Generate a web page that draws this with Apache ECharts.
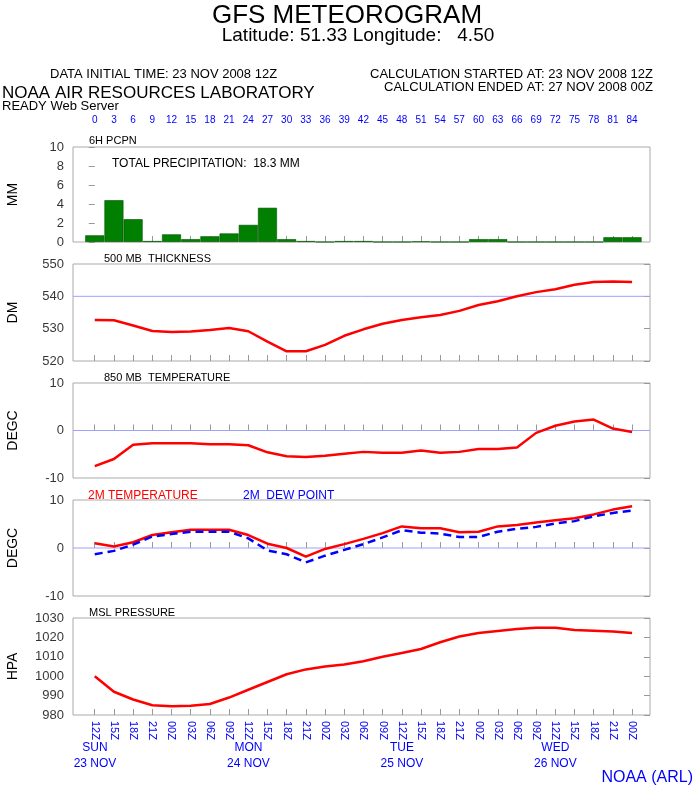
<!DOCTYPE html>
<html>
<head>
<script src="https://cdn.jsdelivr.net/npm/echarts@6/dist/echarts.min.js"></script>
</head>
<body style="margin:0;background:#fff">
<div id="chart" style="width:694px;height:787px"></div>
<script>
// forecast hours, every 3h
const hours = [0,3,6,9,12,15,18,21,24,27,30,33,36,39,42,45,48,51,54,57,60,63,66,69,72,75,78,81,84];
const zLabels = ['12Z','15Z','18Z','21Z','00Z','03Z','06Z','09Z','12Z','15Z','18Z','21Z','00Z','03Z','06Z','09Z','12Z','15Z','18Z','21Z','00Z','03Z','06Z','09Z','12Z','15Z','18Z','21Z','00Z'];
const dayLabels = [[0,'SUN\n23 NOV'],[24,'MON\n24 NOV'],[48,'TUE\n25 NOV'],[72,'WED\n26 NOV']];

const pcpn = [0.7,4.4,2.4,0.1,0.8,0.3,0.6,0.9,1.8,3.6,0.3,0.1,0,0.1,0.1,0,0,0.05,0,0,0.3,0.3,0,0,0,0,0,0.5,0.5];
const thickness = [532.7,532.6,531,529.3,529,529.1,529.6,530.2,529.2,526,523,523,525,527.8,529.8,531.5,532.7,533.5,534.2,535.5,537.3,538.5,540,541.3,542.2,543.6,544.4,544.6,544.4];
const t850 = [-7.5,-6,-3,-2.7,-2.7,-2.7,-2.9,-2.9,-3.1,-4.6,-5.4,-5.6,-5.3,-4.9,-4.5,-4.7,-4.7,-4.2,-4.7,-4.5,-3.9,-3.9,-3.6,-0.5,1,1.9,2.3,0.4,-0.3];
const t2m = [1,0.3,1.2,2.7,3.3,3.8,3.8,3.8,2.7,0.9,0,-1.8,-0.2,0.8,1.9,3.1,4.5,4.1,4.1,3.3,3.4,4.5,4.8,5.3,5.8,6.2,7,8,8.7];
const dew2m = [-1.3,-0.6,0.7,2.4,2.9,3.4,3.4,3.4,2,-0.5,-1.3,-3,-1.6,-0.4,0.8,2.2,3.7,3.2,3,2.3,2.3,3.4,4,4.4,5.1,5.6,6.6,7.3,7.8];
const mslp = [1000,992,988,985,984.5,984.8,985.7,989,993,997,1001,1003.5,1005,1006,1007.7,1010,1012,1014,1017.5,1020.5,1022.3,1023.3,1024.3,1025,1025,1023.8,1023.4,1023,1022.3];

const font = 'Liberation Sans, Arial, sans-serif';
const XMIN = -3.4, XMAX = 86.8;
const panels = [
  {top:147, h:95, ticks:[0,2,4,6,8,10], name:'MM'},
  {top:264, h:97, ticks:[520,530,540,550], name:'DM'},
  {top:383, h:95, ticks:[-10,0,10], name:'DEGC'},
  {top:500, h:96, ticks:[-10,0,10], name:'DEGC'},
  {top:618, h:97, ticks:[980,990,1000,1010,1020,1030], name:'HPA'}
];
const grids = [], xAxes = [], yAxes = [], tickLabelSeries = [];
panels.forEach((p, i) => {
  const min = p.ticks[0], max = p.ticks[p.ticks.length - 1];
  grids.push({left:73, right:44, top:p.top, height:p.h, outerBoundsMode:'none', containLabel:false,
    show:true, borderColor:'#aaa', borderWidth:1, backgroundColor:'#fff'});
  const last = i === panels.length - 1;
  xAxes.push({type:'value', gridIndex:i, min:XMIN, max:XMAX,
    axisLine:{show:false},
    axisTick:{show:true, inside:true, length:6, lineStyle:{color:'#999'}, customValues:hours},
    splitLine:{show:false},
    axisLabel:{show:last, customValues:hours, rotate:-90, color:'#00f', fontFamily:font, fontSize:11, margin:6,
      formatter: v => zLabels[hours.indexOf(v)]}
  });
  yAxes.push({type:'value', gridIndex:i, min, max,
    name:p.name, nameLocation:'middle', nameGap:48, nameRotate:90,
    nameTextStyle:{fontFamily:font, fontSize:14, color:'#000'},
    axisLine:{show:false}, axisTick:{show:false}, splitLine:{show:false}, axisLabel:{show:false}});
  yAxes.push({type:'value', gridIndex:i, position:'right', min, max,
    axisLine:{show:false}, axisTick:{show:true, inside:true, length:6, lineStyle:{color:'#999'}, customValues:p.ticks},
    splitLine:{show:false}, axisLabel:{show:false}});
  // y tick labels, placed through the axis scale
  tickLabelSeries.push({type:'scatter', xAxisIndex:i, yAxisIndex:i * 2, symbolSize:0, silent:true, clip:false,
    data:p.ticks.map(v => [XMIN, v]),
    label:{show:true, position:'left', distance:9, color:'#000', fontFamily:font, fontSize:13,
      formatter: d => String(d.value[1])}});
});
// top hour labels on the first panel
xAxes.push({type:'value', gridIndex:0, position:'top', min:XMIN, max:XMAX, offset:10,
  axisLine:{show:false}, axisTick:{show:false}, splitLine:{show:false},
  axisLabel:{customValues:hours, color:'#00f', fontFamily:font, fontSize:10}});

const pts = arr => hours.map((h, i) => [h, arr[i]]);
const refLine = (xi, yi, v) => ({type:'line', xAxisIndex:xi, yAxisIndex:yi, data:[[XMIN, v],[XMAX, v]],
  symbol:'none', silent:true, lineStyle:{color:'#a0a0ff', width:1}, z:1});
const redLine = (xi, yi, arr) => ({type:'line', xAxisIndex:xi, yAxisIndex:yi, data:pts(arr), symbol:'none',
  lineStyle:{color:'#f00', width:2.5}, z:3});

const txt = (x, y, text, size, color, align) => ({type:'text', x, y,
  style:{text, fontFamily:font, fontSize:size, fill:color || '#000', align:align || 'left', verticalAlign:'top'}});

const option = {
  animation:false,
  backgroundColor:'#fff',
  grid:grids, xAxis:xAxes, yAxis:yAxes,
  series:[
    {type:'bar', xAxisIndex:0, yAxisIndex:0, data:pts(pcpn), barWidth:19,
      itemStyle:{color:'#007f00', borderColor:'#005000', borderWidth:0.6}},
    refLine(1, 2, 540), redLine(1, 2, thickness),
    refLine(2, 4, 0), redLine(2, 4, t850),
    refLine(3, 6, 0), redLine(3, 6, t2m),
    {type:'line', xAxisIndex:3, yAxisIndex:6, data:pts(dew2m), symbol:'none',
      lineStyle:{color:'#00f', width:2.5, type:[8,5]}, z:4},
    redLine(4, 8, mslp),
    ...tickLabelSeries
  ],
  graphic:[
    txt(347, -7, 'GFS METEOROGRAM', 26, '#000', 'center'),
    txt(358, 19, 'Latitude: 51.33 Longitude:   4.50', 19, '#000', 'center'),
    txt(50, 63, 'DATA INITIAL TIME: 23 NOV 2008 12Z', 13),
    txt(653, 63, 'CALCULATION STARTED AT: 23 NOV 2008 12Z', 13, '#000', 'right'),
    txt(653, 76, 'CALCULATION ENDED AT: 27 NOV 2008 00Z', 13, '#000', 'right'),
    txt(2, 79, 'NOAA AIR RESOURCES LABORATORY', 17),
    txt(2, 95, 'READY Web Server', 13),
    txt(89, 131, '6H PCPN', 11),
    txt(112, 153, 'TOTAL PRECIPITATION:  18.3 MM', 12),
    txt(104, 249, '500 MB  THICKNESS', 11),
    txt(104, 368, '850 MB  TEMPERATURE', 11),
    txt(88, 485, '2M TEMPERATURE', 12, '#f00'),
    txt(243, 485, '2M  DEW POINT', 12, '#00f'),
    txt(89, 603, 'MSL PRESSURE', 11),
    ...dayLabels.map(d => ({type:'text', x:95 + d[0] * 19.18 / 3, y:740,
      style:{text:d[1], fontFamily:font, fontSize:12, fill:'#00f', align:'center', verticalAlign:'top', lineHeight:16}})),
    txt(693, 764, 'NOAA (ARL)', 16, '#00f', 'right')
  ]
};
echarts.init(document.getElementById('chart')).setOption(option);
</script>
</body>
</html>
